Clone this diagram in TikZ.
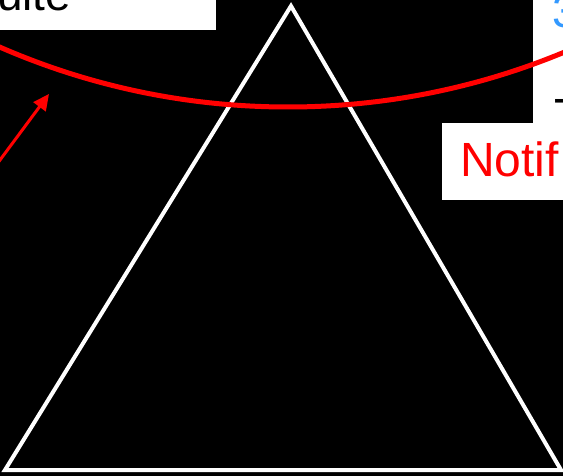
\documentclass[tikz,border=0pt]{standalone}
\usepackage{fontspec}
\setmainfont{Liberation Sans}
\usetikzlibrary{arrows.meta}
\definecolor{lblue}{RGB}{51,153,255}
\begin{document}
\begin{tikzpicture}[x=1pt,y=-1pt,
  txt/.style={inner sep=0pt, anchor=base west, font=\fontsize{46}{50}\selectfont},
  edge/.style={white, line width=4pt},
  redline/.style={red, line width=5pt}]
\useasboundingbox (0,0) rectangle (563,476);
\clip (0,0) rectangle (563,476);
\fill[black] (0,0) rectangle (563,476);
% white boxes
\fill[white] (-5,-5) rectangle (216,30);
\fill[white] (533,-5) rectangle (570,123);
\fill[white] (442,123) rectangle (570,200);
% texts
\node[txt, text=black] (suite) at (-3,11) {uite};
\node[txt, text=lblue] (three) at (552,28) {3};
\node[txt, text=black] (dash) at (553,114) {-};
\node[txt, text=red, font=\fontsize{48}{52}\selectfont] (notif) at (460,177) {Notif};
% triangle
\coordinate (apex) at (291,6);
\coordinate (bl) at (5,470);
\coordinate (br) at (561,470);
\draw[edge] (bl) -- (apex) -- (br) -- cycle;
% red arc
\coordinate (arcc) at (288,-614);
\draw[redline] (arcc) circle (721);
% arrow
\coordinate (tail) at (-10,173.5);
\coordinate (tip) at (49,94);
\draw[red, line width=3pt, -{Triangle[length=16pt,width=15pt]}] (tail) -- (tip);
\end{tikzpicture}
\end{document}
